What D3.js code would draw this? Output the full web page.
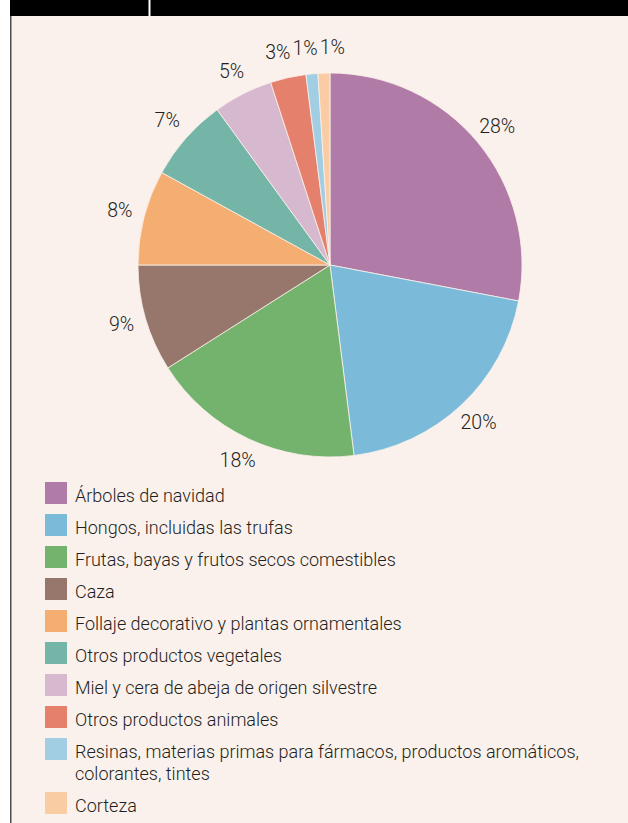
<!DOCTYPE html>
<html lang="es">
<head>
<meta charset="utf-8">
<title>Productos forestales no madereros</title>
<script src="https://d3js.org/d3.v7.min.js"></script>
<style>
  body { margin: 0; background: #fff; }
  svg text { font-family: Roboto, "Liberation Sans", Arial, sans-serif; font-weight: 300; fill: #231f20; }
</style>
</head>
<body>
<script>
// data (share of value, %)
var categories = [
  "Árboles de navidad",
  "Hongos, incluidas las trufas",
  "Frutas, bayas y frutos secos comestibles",
  "Caza",
  "Follaje decorativo y plantas ornamentales",
  "Otros productos vegetales",
  "Miel y cera de abeja de origen silvestre",
  "Otros productos animales",
  "Resinas, materias primas para fármacos, productos aromáticos, colorantes, tintes",
  "Corteza"
];
var values = [28, 20, 18, 9, 8, 7, 5, 3, 1, 1];
var colours = ["#b07ba6", "#7bbad9", "#74b36e", "#97776b", "#f4ae72",
               "#75b5a7", "#d6b8cf", "#e4806c", "#a1cee3", "#f9cca4"];

var width = 628, height = 823;
var svg = d3.select("body").append("svg")
    .attr("width", width).attr("height", height);

// page frame: black title bar, panel background, left rule
svg.append("rect").attr("x", 11).attr("y", 16).attr("width", width - 11).attr("height", height - 16)
    .attr("fill", "#fbf1ec");
svg.append("rect").attr("x", 10).attr("y", 0).attr("width", width - 10).attr("height", 16)
    .attr("fill", "#000");
svg.append("rect").attr("x", 148.5).attr("y", 0).attr("width", 2).attr("height", 16)
    .attr("fill", "#fff");
svg.append("line").attr("x1", 10.75).attr("x2", 10.75).attr("y1", 16).attr("y2", height)
    .attr("stroke", "#4d4d4d").attr("stroke-width", 1.5);

var cx = 330, cy = 265, radius = 192;
var g = svg.append("g").attr("transform", "translate(" + cx + "," + cy + ")");

var pie = d3.pie().sort(null).value(function(d) { return d; });
var arcs = pie(values);

var arc = d3.arc().innerRadius(0).outerRadius(radius);
var labelArc = d3.arc().innerRadius(217).outerRadius(217);

g.selectAll("path.slice")
    .data(arcs)
    .enter()
    .append("path")
    .attr("class", "slice")
    .attr("d", arc)
    .attr("fill", function(d, i) { return colours[i]; })
    .attr("stroke", "#fbf1ec")
    .attr("stroke-width", 0.8);

// percentage labels
var labels = g.selectAll("text.pct")
    .data(arcs)
    .enter()
    .append("text")
    .attr("class", "pct")
    .attr("text-anchor", "middle")
    .attr("dy", "0.3em")
    .style("font-size", "19.5px")
    .text(function(d) { return d.data + "%"; });

// start from the centroid, then push apart labels that collide (small slices at the top)
var pos = arcs.map(function(d) { return labelArc.centroid(d); });
var widths = [];
labels.each(function() { widths.push(this.getComputedTextLength()); });
for (var it = 0; it < 60; it++) {
  for (var a = 0; a < pos.length; a++) {
    for (var b = a + 1; b < pos.length; b++) {
      var need = (widths[a] + widths[b]) / 2 + 2;
      var dx = pos[b][0] - pos[a][0];
      if (Math.abs(pos[b][1] - pos[a][1]) < 18 && Math.abs(dx) < need) {
        var push = (need - Math.abs(dx)) / 2;
        var s = dx >= 0 ? 1 : -1;
        pos[a][0] -= s * push;
        pos[b][0] += s * push;
      }
    }
  }
}
labels.attr("x", function(d, i) { return pos[i][0]; })
      .attr("y", function(d, i) { return pos[i][1]; });

// legend
var legend = svg.append("g").attr("class", "legend");
var y0 = 482, maxW = 515, lineH = 22;
categories.forEach(function(name, i) {
  legend.append("rect")
      .attr("x", 45).attr("y", y0)
      .attr("width", 22).attr("height", 22)
      .attr("fill", colours[i]);

  var t = legend.append("text")
      .attr("x", 75).attr("y", y0 + 19.5)
      .style("font-size", "18px");

  // wrap long names
  var words = name.split(" "), line = [], lines = 1;
  var tspan = t.append("tspan").attr("x", 75);
  words.forEach(function(w) {
    line.push(w);
    tspan.text(line.join(" "));
    if (tspan.node().getComputedTextLength() > maxW && line.length > 1) {
      line.pop();
      tspan.text(line.join(" "));
      line = [w];
      tspan = t.append("tspan").attr("x", 75).attr("dy", lineH).text(w);
      lines++;
    }
  });
  y0 += 32 + (lines - 1) * lineH;
});
</script>
</body>
</html>
